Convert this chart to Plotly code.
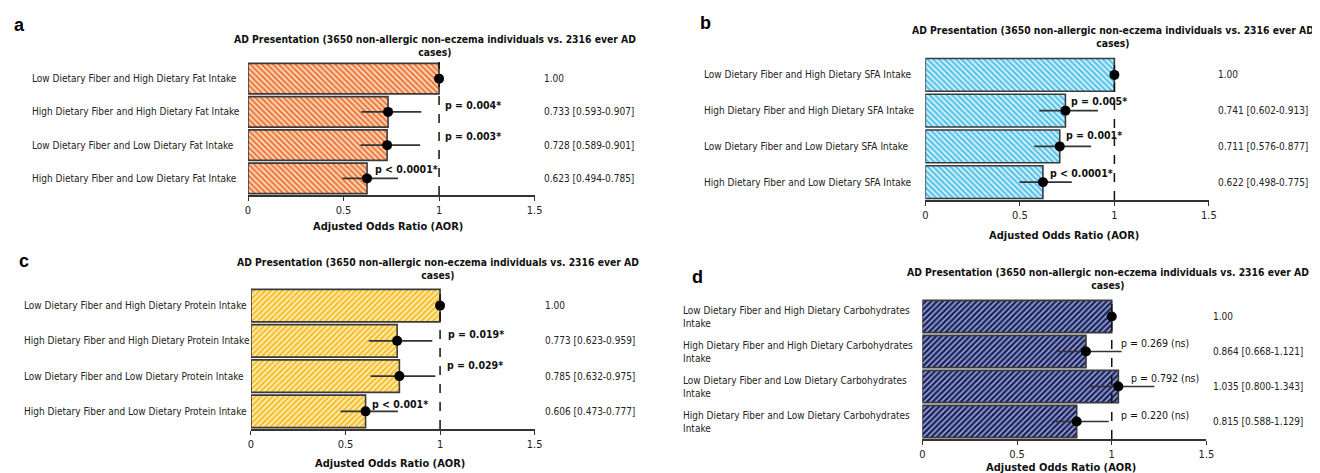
import plotly.graph_objects as go

# ---------------- data ----------------
panel_letters = ["a", "b", "c", "d"]
title_text = "AD Presentation (3650 non-allergic non-eczema individuals vs. 2316 ever AD<br>cases)"
axis_title = "Adjusted Odds Ratio (AOR)"
tick_vals = [0, 0.5, 1, 1.5]
tick_text = ["0", "0.5", "1", "1.5"]
REF_OR = 1.0

labels_a = ["Low Dietary Fiber and High Dietary Fat Intake",
            "High Dietary Fiber and High Dietary Fat Intake",
            "Low Dietary Fiber and Low Dietary Fat Intake",
            "High Dietary Fiber and Low Dietary Fat Intake"]
or_a = [1.00, 0.733, 0.728, 0.623]
lo_a = [1.00, 0.593, 0.589, 0.494]
hi_a = [1.00, 0.907, 0.901, 0.785]
txt_a = ["1.00", "0.733 [0.593-0.907]", "0.728 [0.589-0.901]", "0.623 [0.494-0.785]"]
p_a = ["", "p = 0.004*", "p = 0.003*", "p < 0.0001*"]

labels_b = ["Low Dietary Fiber and High Dietary SFA Intake",
            "High Dietary Fiber and High Dietary SFA Intake",
            "Low Dietary Fiber and Low Dietary SFA Intake",
            "High Dietary Fiber and Low Dietary SFA Intake"]
or_b = [1.00, 0.741, 0.711, 0.622]
lo_b = [1.00, 0.602, 0.576, 0.498]
hi_b = [1.00, 0.913, 0.877, 0.775]
txt_b = ["1.00", "0.741 [0.602-0.913]", "0.711 [0.576-0.877]", "0.622 [0.498-0.775]"]
p_b = ["", "p = 0.005*", "p = 0.001*", "p < 0.0001*"]

labels_c = ["Low Dietary Fiber and High Dietary Protein Intake",
            "High Dietary Fiber and High Dietary Protein Intake",
            "Low Dietary Fiber and Low Dietary Protein Intake",
            "High Dietary Fiber and Low Dietary Protein Intake"]
or_c = [1.00, 0.773, 0.785, 0.606]
lo_c = [1.00, 0.623, 0.632, 0.473]
hi_c = [1.00, 0.959, 0.975, 0.777]
txt_c = ["1.00", "0.773 [0.623-0.959]", "0.785 [0.632-0.975]", "0.606 [0.473-0.777]"]
p_c = ["", "p = 0.019*", "p = 0.029*", "p < 0.001*"]

labels_d = ["Low Dietary Fiber and High Dietary Carbohydrates<br>Intake",
            "High Dietary Fiber and High Dietary Carbohydrates<br>Intake",
            "Low Dietary Fiber and Low Dietary Carbohydrates<br>Intake",
            "High Dietary Fiber and Low Dietary Carbohydrates<br>Intake"]
or_d = [1.00, 0.864, 1.035, 0.815]
# whiskers as drawn in the picture
lo_d = [1.00, 0.717, 0.885, 0.686]
hi_d = [1.00, 1.052, 1.225, 0.984]
txt_d = ["1.00", "0.864 [0.668-1.121]", "1.035 [0.800-1.343]", "0.815 [0.588-1.129]"]
p_d = ["", "p = 0.269 (ns)", "p = 0.792 (ns)", "p = 0.220 (ns)"]

# ---------------- layout helpers ----------------
W, H = 1320, 473
def px(x):
    return x / W
def py(y):
    return 1 - y / H

FONT = "Liberation Sans Narrow, Arial Narrow, DejaVu Sans Condensed, Liberation Sans, Arial, sans-serif"
FONT_W = "Liberation Sans, Arial, sans-serif"

panels = [
    dict(ax="", labels=labels_a, orv=or_a, lo=lo_a, hi=hi_a, txt=txt_a, p=p_a,
         x0=239, x15=528, ytop=54, ybot=187, lab_x=19, val_x=535,
         title_xy=(428, 37.5), letter_xy=(9, 17), axt_y=218,
         p_x=[None, 1.02, 1.02, 0.655], p_shift=[0, 7, 9, 9], p_bold=True,
         fg="#EC7A3A", bg="#FDE0CC", shape="\\"),
    dict(ax="2", labels=labels_b, orv=or_b, lo=lo_b, hi=hi_b, txt=txt_b, p=p_b,
         x0=922, x15=1208, ytop=49, ybot=192, lab_x=697, val_x=1215,
         title_xy=(1111, 28), letter_xy=(700, 15), axt_y=227,
         p_x=[None, 0.76, 0.735, 0.65], p_shift=[0, 10, 11, 9], p_bold=True,
         fg="#55C3EC", bg="#E2F5FC", shape="\\"),
    dict(ax="3", labels=labels_c, orv=or_c, lo=lo_c, hi=hi_c, txt=txt_c, p=p_c,
         x0=242, x15=528, ytop=280, ybot=421, lab_x=11, val_x=536,
         title_xy=(431, 260), letter_xy=(13, 253), axt_y=455,
         p_x=[None, 1.03, 1.025, 0.63], p_shift=[0, 7, 11, 7], p_bold=True,
         fg="#F8BE2A", bg="#FFF1C4", shape="/"),
    dict(ax="4", labels=labels_d, orv=or_d, lo=lo_d, hi=hi_d, txt=txt_d, p=p_d,
         x0=919, x15=1205.5, ytop=291, ybot=431, lab_x=676, val_x=1210,
         title_xy=(1106, 270), letter_xy=(692, 269), axt_y=459,
         p_x=[None, 1.037, 1.09, 1.04], p_shift=[0, 9, 9, 7], p_bold=False,
         fg="#1C2560", bg="#AEB7E0", shape="/"),
]

fig = go.Figure()
annotations = []
shapes = []
rows = [0, 1, 2, 3]

for pn, letter in zip(panels, panel_letters):
    xa = "x" + pn["ax"]
    ya = "y" + pn["ax"]
    solid = 0.65 if pn["ax"] == "4" else 0.55
    fig.add_trace(go.Bar(
        x=pn["orv"], y=rows, orientation="h", width=0.92,
        marker=dict(color=pn["bg"],
                    line=dict(color="#3a3a3a", width=1.6),
                    pattern=dict(shape=pn["shape"], fgcolor=pn["fg"], bgcolor=pn["bg"],
                                 size=4, solidity=solid, fillmode="replace")),
        xaxis=xa, yaxis=ya, showlegend=False, hoverinfo="skip"))
    plus = [h - o for h, o in zip(pn["hi"], pn["orv"])]
    minus = [o - l for o, l in zip(pn["orv"], pn["lo"])]
    fig.add_trace(go.Scatter(
        x=pn["orv"], y=rows, mode="markers",
        marker=dict(color="black", size=10),
        error_x=dict(type="data", symmetric=False, array=plus, arrayminus=minus,
                     width=0, thickness=1.6, color="#333333"),
        xaxis=xa, yaxis=ya, showlegend=False, hoverinfo="skip"))

    axis_common = dict(showgrid=False, zeroline=False)
    fig.update_layout(**{
        ("xaxis" + pn["ax"]): dict(
            domain=[px(pn["x0"]), px(pn["x15"])], range=[0, 1.5], anchor=ya,
            tickvals=tick_vals, ticktext=tick_text, ticks="outside", ticklen=4,
            tickwidth=1, tickcolor="#333", showline=True, linecolor="#333333",
            linewidth=2, tickfont=dict(family=FONT, size=11, color="#222"),
            fixedrange=True, **axis_common),
        ("yaxis" + pn["ax"]): dict(
            domain=[py(pn["ybot"]), py(pn["ytop"])], range=[3.5, -0.5], anchor=xa,
            showticklabels=False, ticks="", showline=False, fixedrange=True,
            **axis_common),
    })

    shapes.append(dict(type="line", xref=xa, yref=ya + " domain",
                       x0=REF_OR, x1=REF_OR, y0=0, y1=1, layer="above",
                       line=dict(color="#111", width=1.5, dash="dash")))

    for i in rows:
        annotations.append(dict(text=pn["labels"][i], xref="paper", yref=ya,
                                x=px(pn["lab_x"]), y=i, xanchor="left", yanchor="middle",
                                align="left", showarrow=False,
                                font=dict(family=FONT, size=10, color="#222")))
        annotations.append(dict(text=pn["txt"][i], xref="paper", yref=ya,
                                x=px(pn["val_x"]), y=i, xanchor="left", yanchor="middle",
                                showarrow=False,
                                font=dict(family=FONT, size=10, color="#222")))
        if pn["p"][i]:
            t = pn["p"][i]
            annotations.append(dict(text=("<b>%s</b>" % t) if pn["p_bold"] else t,
                                    xref=xa, yref=ya, x=pn["p_x"][i], y=i,
                                    xanchor="left", yanchor="middle", yshift=pn["p_shift"][i],
                                    showarrow=False,
                                    font=dict(family=FONT, size=10.5, color="#111")))

    annotations.append(dict(text="<b>%s</b>" % title_text, xref="paper", yref="paper",
                            x=px(pn["title_xy"][0]), y=py(pn["title_xy"][1]),
                            xanchor="center", yanchor="middle", align="center",
                            showarrow=False,
                            font=dict(family=FONT, size=10.3, color="#111")))
    annotations.append(dict(text="<b>%s</b>" % letter, xref="paper", yref="paper",
                            x=px(pn["letter_xy"][0]), y=py(pn["letter_xy"][1]),
                            xanchor="center", yanchor="middle", showarrow=False,
                            font=dict(family=FONT_W, size=18, color="#000")))
    annotations.append(dict(text="<b>%s</b>" % axis_title, xref="paper", yref="paper",
                            x=px((pn["x0"] + pn["x15"]) / 2 - 3), y=py(pn["axt_y"]),
                            xanchor="center", yanchor="middle", showarrow=False,
                            font=dict(family=FONT, size=11, color="#111")))

fig.update_layout(width=W, height=H, margin=dict(l=0, r=0, t=0, b=0),
                  paper_bgcolor="white", plot_bgcolor="white",
                  annotations=annotations, shapes=shapes, bargap=0.1)

fig.write_html("out.html")
